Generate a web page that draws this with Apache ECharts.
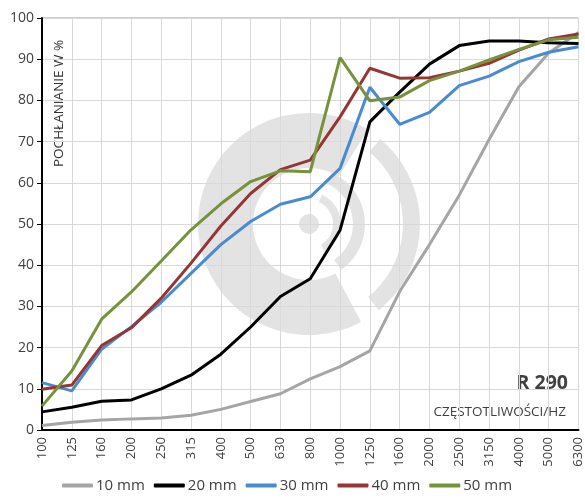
<!DOCTYPE html>
<html>
<head>
<meta charset="utf-8">
<script src="https://cdn.jsdelivr.net/npm/echarts@6/dist/echarts.min.js"></script>
<style>
  html, body { margin: 0; padding: 0; background: #fff; }
  #chart { width: 585px; height: 502px; }
</style>
</head>
<body>
<div id="chart"></div>
<script>
// częstotliwości (Hz)
const categories = ['100', '125', '160', '200', '250', '315', '400', '500', '630', '800',
  '1000', '1250', '1600', '2000', '2500', '3150', '4000', '5000', '6300'];
const yTicks = [0, 10, 20, 30, 40, 50, 60, 70, 80, 90, 100];

// pochłanianie w %
const mm10 = [1.1, 1.9, 2.4, 2.7, 2.9, 3.6, 5.0, 6.9, 8.8, 12.4, 15.4, 19.2, 33.6, 45.0, 57.0, 70.5, 83.3, 91.5, 96.5];
const mm20 = [4.4, 5.5, 7.0, 7.3, 10.0, 13.3, 18.4, 25.0, 32.4, 36.7, 48.5, 74.8, 82.0, 88.8, 93.3, 94.4, 94.4, 94.0, 93.8];
const mm30 = [11.5, 9.5, 19.6, 25.1, 31.0, 38.0, 45.0, 50.6, 54.8, 56.6, 63.5, 83.2, 74.2, 77.1, 83.6, 85.9, 89.4, 91.7, 93.0];
const mm40 = [9.9, 10.9, 20.5, 24.8, 32.0, 40.5, 49.5, 57.4, 63.2, 65.5, 76.0, 87.8, 85.4, 85.5, 87.1, 89.0, 92.2, 94.9, 96.1];
const mm50 = [5.8, 14.3, 26.9, 33.5, 41.0, 48.6, 54.9, 60.3, 62.9, 62.7, 90.4, 79.9, 80.8, 84.8, 87.1, 89.8, 92.4, 94.7, 95.3];

const names = ['10 mm', '20 mm', '30 mm', '40 mm', '50 mm'];
const colors = ['#a5a5a5', '#000000', '#4a8bd0', '#943634', '#76923c'];
const values = [mm10, mm20, mm30, mm40, mm50];

const font = '"Open Sans", "Noto Sans", sans-serif';
const deg = Math.PI / 180;
const wm = '#e3e3e3';
const cx = 309, cy = 224;

var chartDom = document.getElementById('chart');
var myChart = echarts.init(chartDom, null, { renderer: 'canvas' });

var option = {
  animation: false,
  backgroundColor: '#fff',
  color: colors,
  textStyle: { fontFamily: font },
  grid: {
    left: 42, right: 5, top: 18, bottom: 72,
    show: true, borderColor: '#9a9a9a', borderWidth: 1
  },
  legend: {
    bottom: 4,
    left: 57,
    itemWidth: 31,
    itemHeight: 4,
    itemGap: 9,
    icon: 'roundRect',
    textStyle: { fontSize: 15, color: '#404040', fontFamily: font, padding: [0, 0, 0, -2] },
    data: names
  },
  xAxis: {
    type: 'category',
    boundaryGap: false,
    data: categories,
    axisLine: { lineStyle: { color: '#000', width: 2 } },
    axisTick: { show: false },
    axisLabel: { rotate: 90, fontSize: 13, color: '#404040', margin: 7, interval: 0 },
    splitLine: { show: true, lineStyle: { color: '#d9d9d9', width: 1 } }
  },
  yAxis: {
    type: 'value',
    min: yTicks[0],
    max: yTicks[yTicks.length - 1],
    interval: 10,
    axisLine: { show: true, lineStyle: { color: '#000', width: 2 } },
    axisTick: { show: true, length: 5, lineStyle: { color: '#000' } },
    axisLabel: { fontSize: 14, color: '#404040', margin: 8 },
    splitLine: { show: true, lineStyle: { color: '#d9d9d9', width: 1 } }
  },
  graphic: [
    // znak wodny
    { type: 'sector', z: -1, silent: true,
      shape: { cx: cx, cy: cy, r0: 56, r: 111, startAngle: 62 * deg, endAngle: 302 * deg, clockwise: true },
      style: { fill: wm } },
    { type: 'sector', z: -1, silent: true,
      shape: { cx: cx, cy: cy, r0: 94, r: 111, startAngle: -50 * deg, endAngle: 51 * deg, clockwise: true },
      style: { fill: wm } },
    { type: 'sector', z: -1, silent: true,
      shape: { cx: cx, cy: cy, r0: 44, r: 56, startAngle: -66 * deg, endAngle: 55 * deg, clockwise: true },
      style: { fill: wm } },
    { type: 'sector', z: -1, silent: true,
      shape: { cx: cx, cy: cy, r0: 24, r: 32, startAngle: -66 * deg, endAngle: 60 * deg, clockwise: true },
      style: { fill: wm } },
    { type: 'circle', z: -1, silent: true,
      shape: { cx: cx, cy: cy, r: 10 },
      style: { fill: wm } },
    // opisy
    { type: 'text', x: 59, y: 167, rotation: Math.PI / 2, silent: true,
      style: { text: 'POCHŁANIANIE W %', fill: '#333', font: '13.5px ' + font, align: 'left', verticalAlign: 'middle' } },
    { type: 'text', right: 17, top: 373, silent: true,
      style: { text: 'R 290', fill: '#404040', font: 'bold 19.5px ' + font } },
    { type: 'text', right: 19, top: 405, silent: true,
      style: { text: 'CZĘSTOTLIWOŚCI/HZ', fill: '#404040', font: '13.5px ' + font } }
  ],
  series: values.map(function (v, i) {
    return {
      name: names[i],
      type: 'line',
      data: v,
      symbol: 'none',
      lineStyle: { width: 3, color: colors[i] },
      itemStyle: { color: colors[i] }
    };
  })
};
option && myChart.setOption(option);
</script>
</body>
</html>
